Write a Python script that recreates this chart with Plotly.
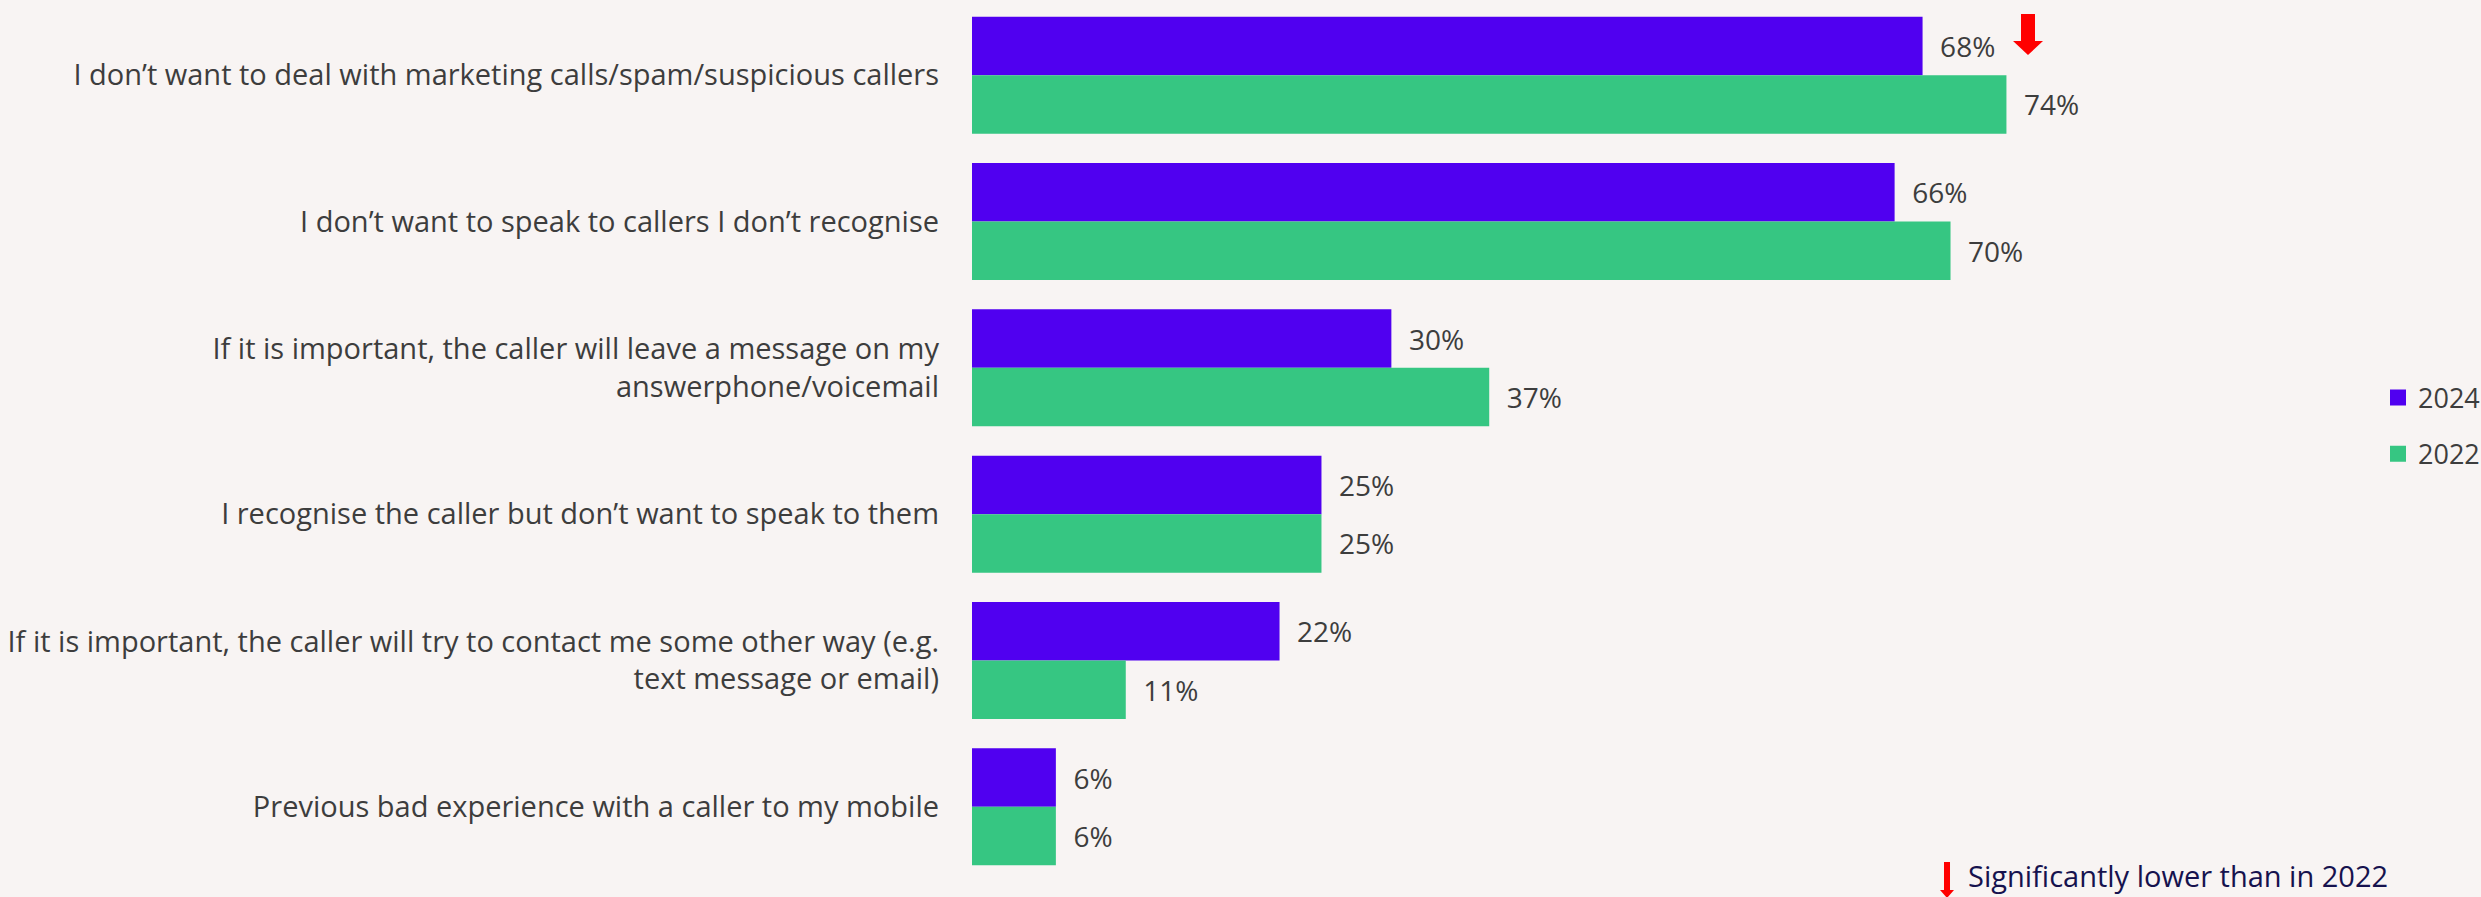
import plotly.graph_objects as go

# Survey responses: reasons for not answering mobile calls
categories = [
    "I don’t want to deal with marketing calls/spam/suspicious callers",
    "I don’t want to speak to callers I don’t recognise",
    "If it is important, the caller will leave a message on my<br>answerphone/voicemail",
    "I recognise the caller but don’t want to speak to them",
    "If it is important, the caller will try to contact me some other way (e.g.<br>text message or email)",
    "Previous bad experience with a caller to my mobile",
]
values_2024 = [68, 66, 30, 25, 22, 6]
values_2022 = [74, 70, 37, 25, 11, 6]
series_names = ["2024", "2022"]
footnote = "Significantly lower than in 2022"

PURPLE = "#5000F0"
GREEN = "#36C682"
BG = "#F8F4F3"
TEXT = "#3D3D3D"
NAVY = "#16124E"
RED = "#FF0000"

W, H = 2481, 897
ML, MT, MB = 972, 2, 17
X_MAX = 95
PLOT_W = 1328
MR = W - ML - PLOT_W
PLOT_H = H - MT - MB

FONT = "Open Sans"

fig = go.Figure()
for name, vals, col in [(series_names[0], values_2024, PURPLE),
                        (series_names[1], values_2022, GREEN)]:
    fig.add_trace(go.Bar(
        y=categories, x=vals, name=name, orientation="h",
        marker=dict(color=col, line=dict(width=0)),
        text=[f"  {v}%" for v in vals], textposition="outside",
        textfont=dict(family=FONT, size=28, color=TEXT),
        cliponaxis=False, showlegend=False,
    ))

# legend keys drawn as larger square swatches
for name, col in [(series_names[0], PURPLE), (series_names[1], GREEN)]:
    fig.add_trace(go.Scatter(
        x=[None], y=[None], mode="markers", name=name, legendgroup=name,
        marker=dict(symbol="square", size=18, color=col, line=dict(width=0)),
        showlegend=True, hoverinfo="skip",
    ))


def px_x(x):
    return (x - ML) / PLOT_W


def px_y(y):
    return 1 - (y - MT) / PLOT_H


def arrow_path(cx, top, shaft_half, head_half, head_top, tip):
    pts = [
        (cx - shaft_half, top), (cx + shaft_half, top),
        (cx + shaft_half, head_top), (cx + head_half, head_top),
        (cx, tip), (cx - head_half, head_top),
        (cx - shaft_half, head_top),
    ]
    d = "M " + " L ".join(f"{px_x(a):.5f},{px_y(b):.5f}" for a, b in pts) + " Z"
    return d


shapes = [
    # significance marker beside the first 2024 bar
    dict(type="path", xref="paper", yref="paper",
         path=arrow_path(2028, 14, 7, 15, 41, 55),
         fillcolor=RED, line=dict(width=0)),
    # key marker next to the footnote
    dict(type="path", xref="paper", yref="paper",
         path=arrow_path(1947, 862, 3, 7, 890, 898),
         fillcolor=RED, line=dict(width=0)),
]

annotations = [
    dict(text=footnote, xref="paper", yref="paper",
         x=px_x(1966), y=px_y(875), xanchor="left", yanchor="middle",
         showarrow=False, font=dict(family=FONT, size=29, color=NAVY)),
]

fig.update_layout(
    width=W, height=H,
    paper_bgcolor=BG, plot_bgcolor=BG,
    margin=dict(l=ML, r=MR, t=MT, b=MB, pad=0, autoexpand=False),
    barmode="group", bargap=0.2, bargroupgap=0,
    font=dict(family=FONT, size=28, color=TEXT),
    xaxis=dict(range=[0, X_MAX], visible=False, showgrid=False, zeroline=False),
    yaxis=dict(autorange="reversed", showgrid=False, zeroline=False,
               showline=False, ticks="", ticklabelstandoff=32,
               tickfont=dict(family=FONT, size=29, color=TEXT)),
    legend=dict(x=px_x(2378), y=px_y(426), xanchor="left", yanchor="middle",
                bgcolor="rgba(0,0,0,0)", traceorder="grouped",
                font=dict(family=FONT, size=27, color=TEXT),
                itemwidth=30, tracegroupgap=18, itemsizing="trace"),
    shapes=shapes, annotations=annotations,
    showlegend=True,
)

fig.write_html("out.html")
